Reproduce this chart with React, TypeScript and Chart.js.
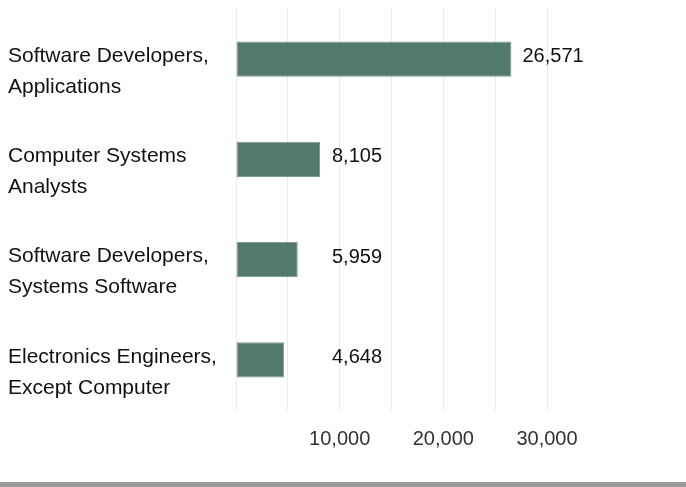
import React, { useEffect, useRef } from "react";
import { Chart, registerables } from "chart.js";

Chart.register(...registerables);

const categories: string[][] = [
  ["Software Developers,", "Applications"],
  ["Computer Systems", "Analysts"],
  ["Software Developers,", "Systems Software"],
  ["Electronics Engineers,", "Except Computer"],
];
const values: number[] = [26571, 8105, 5959, 4648];
const tickLabels: Record<number, string> = { 10000: "10,000", 20000: "20,000", 30000: "30,000" };

const FONT = "'Liberation Sans', Arial, sans-serif";

const labelPlugin = {
  id: "customLabels",
  afterDatasetsDraw(chart: any) {
    const { ctx } = chart;
    const xScale = chart.scales.x;
    const yScale = chart.scales.y;
    const meta = chart.getDatasetMeta(0);
    ctx.save();
    ctx.textBaseline = "middle";
    ctx.textAlign = "left";
    ctx.font = `21px ${FONT}`;
    categories.forEach((lines, i) => {
      const y = yScale.getPixelForValue(i);
      ctx.fillStyle = "#111";
      lines.forEach((line, j) => {
        ctx.fillText(line, 8, y - 3 + j * 31);
      });
    });
    ctx.font = `20px ${FONT}`;
    meta.data.forEach((bar: any, i: number) => {
      const minX = xScale.getPixelForValue(0) + 96;
      const x = Math.max(bar.x + 11, minX);
      ctx.fillStyle = "#111";
      ctx.fillText(values[i].toLocaleString("en-US"), x, bar.y - 2.5);
    });
    ctx.restore();
  },
};

export default function App() {
  const ref = useRef<HTMLCanvasElement>(null);
  useEffect(() => {
    const chart = new Chart(ref.current!, {
      type: "bar",
      data: {
        labels: categories.map((c) => c.join(" ")),
        datasets: [
          {
            data: values,
            backgroundColor: "#527a6a",
            borderColor: "#7f9c90",
            borderWidth: 1,
            borderSkipped: false,
            barPercentage: 0.35,
            categoryPercentage: 1,
          },
        ],
      },
      options: {
        indexAxis: "y",
        animation: false,
        responsive: true,
        maintainAspectRatio: false,
        layout: { padding: { left: 236, right: 139, top: 9, bottom: 14 } },
        plugins: { legend: { display: false }, tooltip: { enabled: false } },
        scales: {
          x: {
            min: 0,
            max: 30000,
            border: { display: false },
            grid: { color: "#ebebeb", drawTicks: false, lineWidth: 1 },
            ticks: {
              stepSize: 5000,
              padding: 17,
              autoSkip: false,
              maxRotation: 0,
              color: "#333",
              font: { family: FONT, size: 20 },
              callback: (v: any) => tickLabels[Number(v)] ?? "",
            },
          },
          y: {
            display: false,
          },
        },
      },
      plugins: [labelPlugin],
    });
    return () => chart.destroy();
  }, []);
  return (
    <div style={{ position: "absolute", left: 0, top: 0, width: 686, height: 487, background: "#fff" }}>
      <div style={{ position: "relative", width: 686, height: 482 }}>
        <canvas ref={ref} />
      </div>
      <div style={{ width: 686, height: 5, background: "#999" }} />
    </div>
  );
}
